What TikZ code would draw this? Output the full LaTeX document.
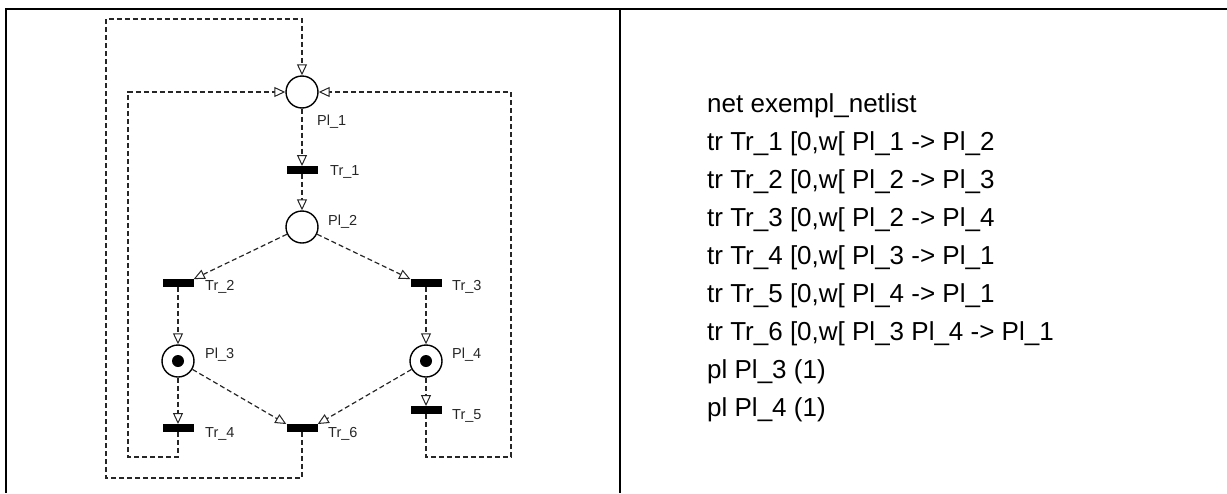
\documentclass[tikz,border=0pt]{standalone}
\usepackage{fontspec}
\setmainfont{Liberation Sans}
\usetikzlibrary{arrows.meta}
\tikzset{
  place/.style={circle, draw, line width=1.4pt, minimum size=32pt, inner sep=0pt},
  token/.style={circle, fill=black, minimum size=12pt, inner sep=0pt},
  trans/.style={rectangle, fill=black, minimum width=31pt, minimum height=7.5pt, inner sep=0pt},
  arc/.style={black!85, dash pattern=on 5pt off 3pt, line width=1.2pt,
    -{Triangle[length=11pt, width=10pt, fill=white, line width=1pt]}},
  lbl/.style={anchor=west, inner sep=0pt, text=black!85, font=\fontsize{14.5}{15}\selectfont},
  code/.style={anchor=base west, inner sep=0pt, font=\fontsize{26}{30}\selectfont},
  rule/.style={line width=2pt, black}
}
\begin{document}
\begin{tikzpicture}[x=1pt, y=-1pt]
\useasboundingbox (0,0) rectangle (1227,493);
% table rules
\draw[rule] (5,9.3) -- (1227,9.3);
\draw[rule] (6,9.3) -- (6,493);
\draw[rule] (620,9.3) -- (620,493);

% places
\node[place] (P1) at (302,92) {};
\node[place] (P2) at (302,227) {};
\node[place] (P3) at (178,361) {};
\node[place] (P4) at (426,361) {};
\node[token] (K3) at (P3) {};
\node[token] (K4) at (P4) {};

% transitions
\node[trans] (T1) at (302,170) {};
\node[trans] (T2) at (178,283) {};
\node[trans] (T3) at (426,283) {};
\node[trans] (T4) at (178,428) {};
\node[trans] (T5) at (426,410) {};
\node[trans] (T6) at (302,428) {};

% labels
\node[lbl] (LP1) at (317,122) {Pl\_1};
\node[lbl] (LP2) at (328,222) {Pl\_2};
\node[lbl] (LP3) at (205,355) {Pl\_3};
\node[lbl] (LP4) at (452,355) {Pl\_4};
\node[lbl] (LT1) at (330,172) {Tr\_1};
\node[lbl] (LT2) at (205,287) {Tr\_2};
\node[lbl] (LT3) at (452,287) {Tr\_3};
\node[lbl] (LT4) at (205,434) {Tr\_4};
\node[lbl] (LT5) at (452,416) {Tr\_5};
\node[lbl] (LT6) at (328,434) {Tr\_6};

% loop corners
\coordinate (a4) at (128,457);
\coordinate (a5) at (511,457);
\coordinate (a6) at (106,478);
\coordinate (b6) at (106,19);

% arcs
\draw[arc] (P1) -- (T1);
\draw[arc] (T1) -- (P2);
\draw[arc] (P2) -- (T2.north east);
\draw[arc] (P2) -- (T3.north west);
\draw[arc] (T2) -- (P3);
\draw[arc] (T3) -- (P4);
\draw[arc] (P3) -- (T4);
\draw[arc] (P4) -- (T5);
\draw[arc] (P3) -- (T6.north west);
\draw[arc] (P4) -- (T6.north east);
\draw[arc] (T4.south) |- (a4) |- (P1.west);
\draw[arc] (T5.south) |- (a5) |- (P1.east);
\draw[arc] (T6.south) |- (a6) -- (b6) -| (P1.north);

% netlist text
\node[code] (L0) at (707,112) {net exempl\_netlist};
\node[code] (L1) at (707,150) {tr Tr\_1 [0,w[ Pl\_1 -> Pl\_2};
\node[code] (L2) at (707,188) {tr Tr\_2 [0,w[ Pl\_2 -> Pl\_3};
\node[code] (L3) at (707,226) {tr Tr\_3 [0,w[ Pl\_2 -> Pl\_4};
\node[code] (L4) at (707,264) {tr Tr\_4 [0,w[ Pl\_3 -> Pl\_1};
\node[code] (L5) at (707,302) {tr Tr\_5 [0,w[ Pl\_4 -> Pl\_1};
\node[code] (L6) at (707,340) {tr Tr\_6 [0,w[ Pl\_3 Pl\_4 -> Pl\_1};
\node[code] (L7) at (707,378) {pl Pl\_3 (1)};
\node[code] (L8) at (707,416) {pl Pl\_4 (1)};
\end{tikzpicture}
\end{document}
